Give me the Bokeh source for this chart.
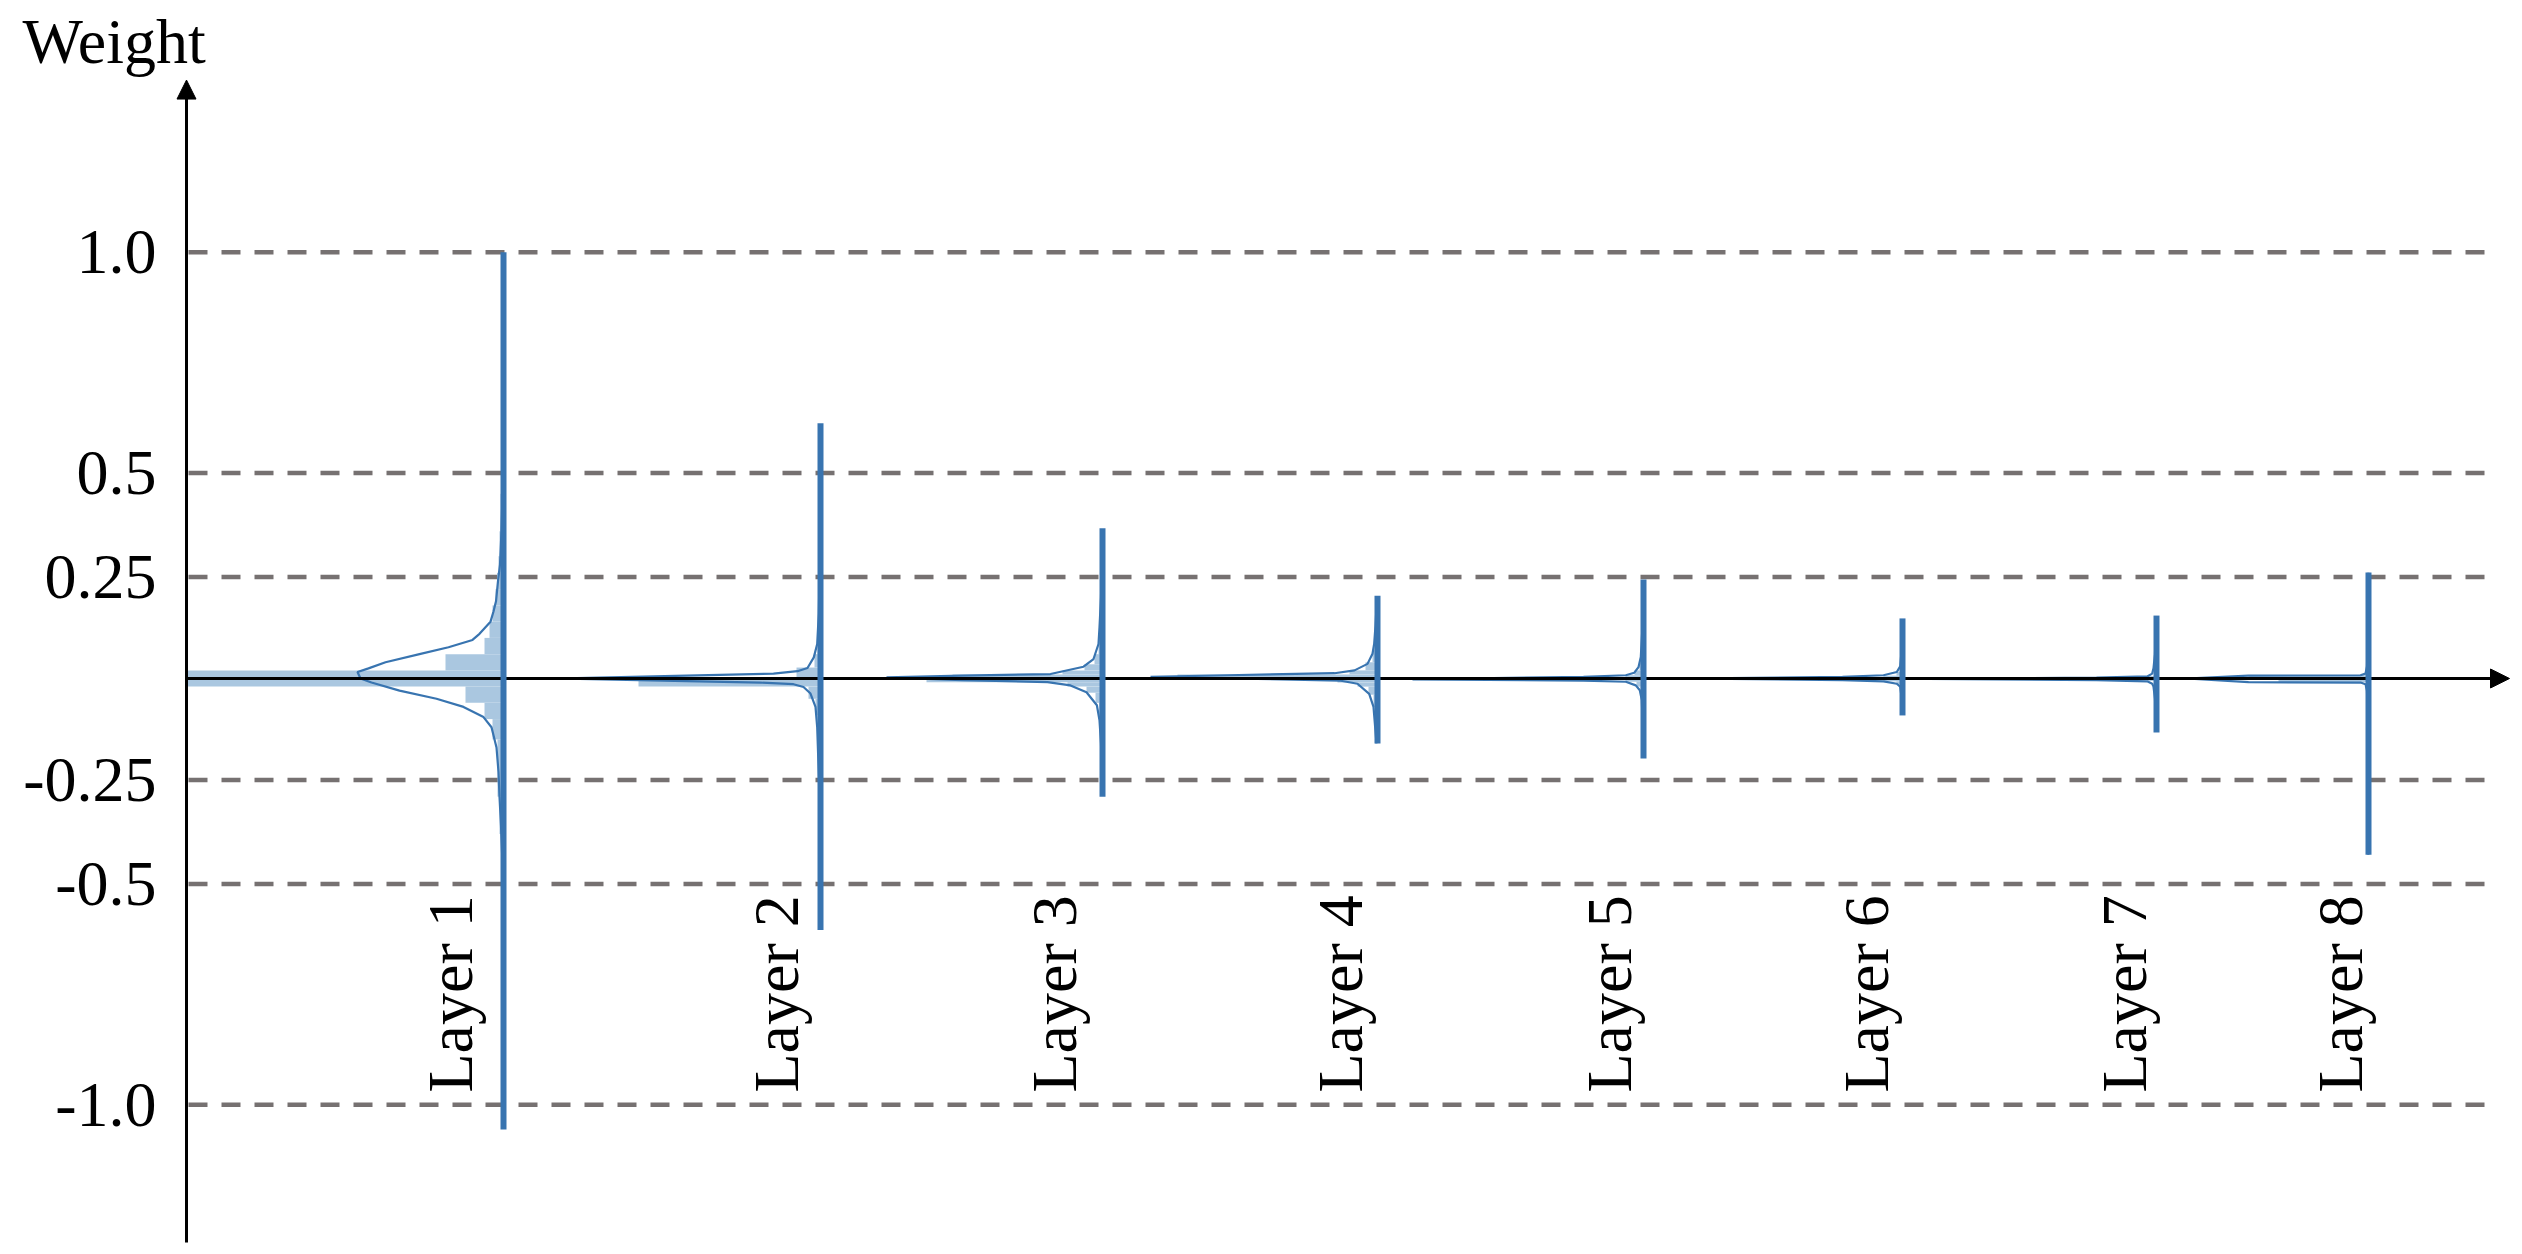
import numpy as np
from bokeh.plotting import figure
from bokeh.models import Range1d, LinearAxis, FixedTicker, Arrow, NormalHead
from bokeh.core.properties import value
from bokeh.embed import file_html
from bokeh.resources import INLINE

# ---------------- data ----------------
tick_vals = [-1.0, -0.5, -0.25, 0.0, 0.25, 0.5, 1.0]
tick_labels = ["-1.0", "-0.5", "-0.25", "", "0.25", "0.5", "1.0"]
layers = ["Layer 1", "Layer 2", "Layer 3", "Layer 4", "Layer 5", "Layer 6", "Layer 7", "Layer 8"]

# weight range of each layer (vertical bars)
w_max = [1.0, 0.613, 0.367, 0.204, 0.244, 0.148, 0.155, 0.261]
w_min = [-1.056, -0.604, -0.29, -0.16, -0.197, -0.091, -0.133, -0.43]

# density curves (weight, density length)
kde1_w = [0.55, 0.45, 0.36, 0.28, 0.24, 0.19, 0.165, 0.14, 0.11, 0.095, 0.077, 0.06, 0.04, 0.025, 0.016, 0.0, -0.01, -0.03, -0.05, -0.07, -0.095, -0.12, -0.17, -0.23, -0.29, -0.36, -0.45]
kde1_d = [0.5, 1.0, 2.0, 3.5, 5.5, 7.5, 10, 13, 24, 31, 55, 84, 118, 135, 146, 143, 132, 104, 67, 40, 20, 12, 7, 5, 4, 2.5, 1]
kde2_w = [0.40, 0.25, 0.16, 0.085, 0.052, 0.026, 0.018, 0.012, 0.006, 0.0, -0.006, -0.010, -0.014, -0.021, -0.037, -0.07, -0.12, -0.25, -0.40]
kde2_d = [0.5, 1.0, 1.7, 3.3, 6.7, 13, 23, 47, 156, 265, 146, 60, 27, 17, 10, 5, 3.3, 1.5, 0.5]
kde3_w = [0.30, 0.20, 0.126, 0.085, 0.048, 0.029, 0.011, 0.007, 0.003, -0.004, -0.009, -0.017, -0.034, -0.066, -0.103, -0.16, -0.25]
kde3_d = [0.5, 1.5, 3, 4, 9, 19, 52, 140, 216, 140, 55, 32, 16, 5.6, 3, 1.5, 0.5]
kde4_w = [0.20, 0.13, 0.086, 0.061, 0.036, 0.02, 0.013, 0.008, 0.004, -0.001, -0.005, -0.013, -0.038, -0.07, -0.10, -0.16]
kde4_d = [0.5, 2, 3.3, 5, 10, 23, 43, 150, 227, 120, 38, 20, 8.3, 4, 3, 1]
kde5_w = [0.24, 0.12, 0.053, 0.028, 0.014, 0.008, 0.004, -0.002, -0.005, -0.008, -0.017, -0.029, -0.053, -0.10, -0.19]
kde5_d = [0.3, 1.2, 2.7, 5, 9.3, 17.7, 60, 231, 60, 17.7, 7.7, 3.7, 1.7, 1, 0.3]
kde6_w = [0.14, 0.06, 0.03, 0.016, 0.008, 0.004, 0.0, -0.004, -0.007, -0.013, -0.02, -0.04, -0.09]
kde6_d = [0.3, 1.2, 2.3, 5.7, 19, 60, 222, 60, 19, 5.7, 2.3, 1.2, 0.3]
kde7_w = [0.15, 0.06, 0.025, 0.012, 0.005, 0.002, -0.001, -0.004, -0.007, -0.013, -0.02, -0.05, -0.13]
kde7_d = [0.3, 1.5, 3, 4.3, 9.3, 60, 228, 60, 9.3, 4.3, 3, 1.5, 0.3]
kde8_w = [0.26, 0.10, 0.03, 0.012, 0.008, 0.007, 0.0, -0.009, -0.010, -0.014, -0.03, -0.10, -0.43]
kde8_d = [0.2, 0.8, 1.5, 3, 8, 120, 182, 120, 8, 3, 1.5, 0.8, 0.2]

# histograms (bin low, bin high, bar length)
hist1_lo = [-0.48, -0.38, -0.29, -0.15, -0.10, -0.06, -0.02, 0.02, 0.06, 0.10, 0.14, 0.18, 0.22, 0.26, 0.30, 0.36, 0.45]
hist1_hi = [-0.38, -0.29, -0.15, -0.10, -0.06, -0.02, 0.02, 0.06, 0.10, 0.14, 0.18, 0.22, 0.26, 0.30, 0.36, 0.45, 0.55]
hist1_len = [2.5, 4, 6, 11, 19, 38, 318, 58, 19, 14, 11, 8, 6.5, 5, 4, 3, 2]
hist2_lo = [-0.15, -0.09, -0.05, -0.02, 0.0, 0.027, 0.06]
hist2_hi = [-0.09, -0.05, -0.02, 0.0, 0.027, 0.06, 0.12]
hist2_len = [3, 5, 12, 182, 24, 6, 3]
hist3_lo = [-0.10, -0.06, -0.035, -0.02, -0.009, 0.0, 0.01, 0.02, 0.035, 0.06, 0.10]
hist3_hi = [-0.06, -0.035, -0.02, -0.009, 0.0, 0.01, 0.02, 0.035, 0.06, 0.10, 0.15]
hist3_len = [3.5, 7, 16, 35, 176, 150, 40, 18, 8, 4, 2.5]
hist4_lo = [-0.12, -0.07, -0.04, -0.02, -0.01, 0.0, 0.01, 0.02, 0.04, 0.07]
hist4_hi = [-0.07, -0.04, -0.02, -0.01, 0.0, 0.01, 0.02, 0.04, 0.07, 0.12]
hist4_len = [2.5, 4, 9, 20, 40, 200, 28, 12, 5, 3]
hist5_lo = [-0.04, -0.02, -0.008, 0.008, 0.02]
hist5_hi = [-0.02, -0.008, 0.008, 0.02, 0.04]
hist5_len = [3, 7, 18, 9, 4]
hist6_lo = [-0.014, -0.007, 0.007]
hist6_hi = [-0.007, 0.007, 0.016]
hist6_len = [6, 19, 6]
hist7_lo = [-0.006]
hist7_hi = [0.006]
hist7_len = [9]
hist8_lo = [-0.009, 0.0]
hist8_hi = [0.0, 0.008]
hist8_len = [90, 120]

# ---------------- layout / style ----------------
tick_pos = [-1.05, -0.506, -0.25, 0.0, 0.25, 0.506, 1.05]   # display position of each tick value
layer_x = [3.17, 6.34, 9.16, 11.91, 14.57, 17.16, 19.70, 21.82]
label_x = [2.64, 5.90, 8.68, 11.54, 14.23, 16.80, 19.38, 21.54]
label_y = -1.0197
dens_scale = 0.01

BLUE = "#3874b0"
LIGHT = "#aac7e0"
GRID = "#767171"
FONT = "Liberation Serif"
FSIZE = "64px"


def ymap(w):
    w = np.atleast_1d(np.asarray(w, dtype=float))
    tv = np.array(tick_vals)
    tp = np.array(tick_pos)
    out = np.interp(w, tv, tp)
    s0 = (tp[1] - tp[0]) / (tv[1] - tv[0])
    s1 = (tp[-1] - tp[-2]) / (tv[-1] - tv[-2])
    lo = w < tv[0]
    hi = w > tv[-1]
    out[lo] = tp[0] + (w[lo] - tv[0]) * s0
    out[hi] = tp[-1] + (w[hi] - tv[-1]) * s1
    return out


kde_w = [kde1_w, kde2_w, kde3_w, kde4_w, kde5_w, kde6_w, kde7_w, kde8_w]
kde_d = [kde1_d, kde2_d, kde3_d, kde4_d, kde5_d, kde6_d, kde7_d, kde8_d]
hist_lo = [hist1_lo, hist2_lo, hist3_lo, hist4_lo, hist5_lo, hist6_lo, hist7_lo, hist8_lo]
hist_hi = [hist1_hi, hist2_hi, hist3_hi, hist4_hi, hist5_hi, hist6_hi, hist7_hi, hist8_hi]
hist_len = [hist1_len, hist2_len, hist3_len, hist4_len, hist5_len, hist6_len, hist7_len, hist8_len]

p = figure(width=2522, height=1254, output_backend="svg", toolbar_location=None,
           x_axis_type=None, y_axis_type=None,
           x_range=Range1d(-0.16, 23.36), y_range=Range1d(-1.41872, 1.47537),
           min_border_left=170, min_border_right=0, min_border_top=79, min_border_bottom=0)
p.outline_line_color = None
p.background_fill_color = "white"
p.border_fill_color = "white"

# title used as the y-axis name ("Weight") above the axis arrow
p.title.text = "Weight"
p.title.align = "left"
p.title.offset = -148
p.title.standoff = 5
p.title.text_font = FONT
p.title.text_font_size = FSIZE
p.title.text_font_style = "normal"
p.title.text_color = "black"

# y axis with tick labels only
grid_vals = [v for v in tick_vals if v != 0.0]
grid_labels = [l for v, l in zip(tick_vals, tick_labels) if v != 0.0]
grid_pos = list(ymap(grid_vals))
yaxis = LinearAxis(ticker=FixedTicker(ticks=grid_pos),
                   major_label_overrides={float(k): l for k, l in zip(grid_pos, grid_labels)},
                   axis_line_color=None, major_tick_line_color=None, minor_tick_line_color=None,
                   major_tick_out=0, major_tick_in=0, major_label_standoff=14,
                   major_label_text_font=FONT, major_label_text_font_size=FSIZE,
                   major_label_text_color="black")
p.add_layout(yaxis, "left")

# dashed reference lines
p.segment(x0=[0.02] * len(grid_pos), x1=[22.99] * len(grid_pos), y0=grid_pos, y1=grid_pos,
          line_color=GRID, line_width=4.5, line_dash="19 14")

# histograms
for i in range(len(layers)):
    lo = ymap(hist_lo[i])
    hi = ymap(hist_hi[i])
    ln = np.array(hist_len[i]) * dens_scale
    p.quad(left=np.maximum(layer_x[i] - ln, 0.0), right=[layer_x[i]] * len(ln), bottom=lo, top=hi,
           fill_color=LIGHT, line_color=None)

# density curves
for i in range(len(layers)):
    xs = layer_x[i] - np.array(kde_d[i]) * dens_scale
    ys = ymap(kde_w[i])
    p.line(xs, ys, line_color=BLUE, line_width=2.2)

# axes with arrow heads
p.add_layout(Arrow(end=NormalHead(size=19, fill_color="black", line_color="black", line_width=1),
                   x_start=0, y_start=0, x_end=23.23, y_end=0, line_color="black", line_width=3))
p.add_layout(Arrow(end=NormalHead(size=19, fill_color="black", line_color="black", line_width=1),
                   x_start=0, y_start=-1.3892, x_end=0, y_end=1.4740, line_color="black", line_width=3))

# vertical weight-range bars
p.segment(x0=layer_x, x1=layer_x, y0=ymap(w_min), y1=ymap(w_max),
          line_color=BLUE, line_width=6, level="overlay")

# layer labels
p.text(x=label_x, y=[label_y] * len(layers), text=layers, angle=np.pi / 2,
       text_font=value(FONT), text_font_size=FSIZE, text_align="left",
       text_baseline="middle", text_color="black")

open("out.html", "w").write(file_html(p, INLINE))
